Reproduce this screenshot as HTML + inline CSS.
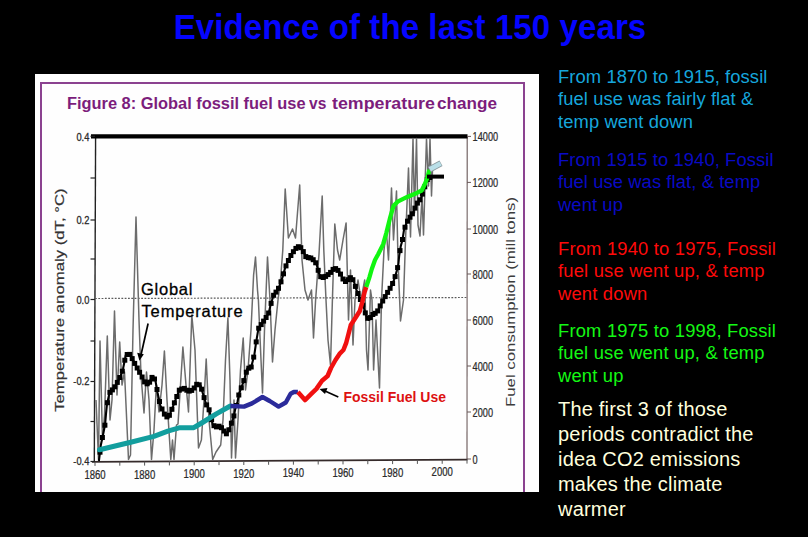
<!DOCTYPE html>
<html><head><meta charset="utf-8"><style>
html,body{margin:0;padding:0;background:#000;width:808px;height:537px;overflow:hidden}
body{position:relative;font-family:"Liberation Sans",Arial,sans-serif}
.t{position:absolute;white-space:nowrap}
#title{left:0;width:808px;top:9px;text-align:center;padding-left:12px;box-sizing:border-box;color:#0505ff;transform-origin:0 38.5px;transform:scaleY(1.035);font-weight:bold;font-size:33px;letter-spacing:0.1px;line-height:38px}
#fig{position:absolute;left:35px;top:74px;width:504px;height:418px;background:#fefefe;overflow:hidden}
#frame{position:absolute;left:5px;top:8px;width:485px;height:430px;border:2px solid #8b4290;box-sizing:border-box}
.ft{position:absolute;top:20.5px;color:#7c1d7c;font-weight:bold;font-size:16px;transform-origin:0 0;white-space:nowrap}
.p{position:absolute;left:558px;font-size:18.35px;line-height:22.3px;letter-spacing:0.1px;white-space:nowrap}
#p5{font-size:20px;line-height:24.9px;letter-spacing:0.2px}
svg{position:absolute;left:0;top:0}
</style></head><body>
<div class="t" id="title">Evidence of the last 150 years</div>
<div id="fig"><div id="frame"></div><div class="ft" style="left:32px;transform:scaleX(1.024)">Figure 8: Global fossil fuel use</div><div class="ft" style="left:274.1px;transform:scaleX(0.97)">vs</div><div class="ft" style="left:297.4px;transform:scaleX(1.112)">temperature</div><div class="ft" style="left:401.9px;transform:scaleX(1.07)">change</div></div>
<svg width="808" height="537" viewBox="0 0 808 537">
<line x1="95.6" y1="136" x2="94.3" y2="462" stroke="#222" stroke-width="1.4"/>
<line x1="467.2" y1="136" x2="467" y2="459.5" stroke="#6b5a5a" stroke-width="1.1"/>
<line x1="92" y1="461.9" x2="467.5" y2="459.6" stroke="#352a2a" stroke-width="1.8"/>
<line x1="91" y1="136.3" x2="467.5" y2="136.3" stroke="#000" stroke-width="4.3"/>
<line x1="95" y1="298.5" x2="467" y2="297.5" stroke="#5a5a5a" stroke-width="1.2" stroke-dasharray="1.8,1.5"/>
<line x1="90.5" y1="136.3" x2="95" y2="136.3" stroke="#222" stroke-width="1.2"/>
<line x1="90.5" y1="178" x2="95" y2="178" stroke="#222" stroke-width="1.2"/>
<line x1="90.5" y1="220" x2="95" y2="220" stroke="#222" stroke-width="1.2"/>
<line x1="90.5" y1="259" x2="95" y2="259" stroke="#222" stroke-width="1.2"/>
<line x1="90.5" y1="299.5" x2="95" y2="299.5" stroke="#222" stroke-width="1.2"/>
<line x1="90.5" y1="341" x2="95" y2="341" stroke="#222" stroke-width="1.2"/>
<line x1="90.5" y1="381.5" x2="95" y2="381.5" stroke="#222" stroke-width="1.2"/>
<line x1="90.5" y1="421.5" x2="95" y2="421.5" stroke="#222" stroke-width="1.2"/>
<line x1="90.5" y1="461.5" x2="95" y2="461.5" stroke="#222" stroke-width="1.2"/>
<line x1="467" y1="136.4" x2="471" y2="136.4" stroke="#6b5a5a" stroke-width="1"/>
<line x1="467" y1="182.4" x2="471" y2="182.4" stroke="#6b5a5a" stroke-width="1"/>
<line x1="467" y1="229" x2="471" y2="229" stroke="#6b5a5a" stroke-width="1"/>
<line x1="467" y1="274" x2="471" y2="274" stroke="#6b5a5a" stroke-width="1"/>
<line x1="467" y1="320" x2="471" y2="320" stroke="#6b5a5a" stroke-width="1"/>
<line x1="467" y1="366" x2="471" y2="366" stroke="#6b5a5a" stroke-width="1"/>
<line x1="467" y1="412" x2="471" y2="412" stroke="#6b5a5a" stroke-width="1"/>
<line x1="467" y1="459" x2="471" y2="459" stroke="#6b5a5a" stroke-width="1"/>
<line x1="95.0" y1="461.9" x2="95.0" y2="465.9" stroke="#555" stroke-width="1"/>
<line x1="119.8" y1="461.7" x2="119.8" y2="465.7" stroke="#555" stroke-width="1"/>
<line x1="144.6" y1="461.6" x2="144.6" y2="465.6" stroke="#555" stroke-width="1"/>
<line x1="169.4" y1="461.4" x2="169.4" y2="465.4" stroke="#555" stroke-width="1"/>
<line x1="194.2" y1="461.3" x2="194.2" y2="465.3" stroke="#555" stroke-width="1"/>
<line x1="219.0" y1="461.1" x2="219.0" y2="465.1" stroke="#555" stroke-width="1"/>
<line x1="243.8" y1="461.0" x2="243.8" y2="465.0" stroke="#555" stroke-width="1"/>
<line x1="268.6" y1="460.8" x2="268.6" y2="464.8" stroke="#555" stroke-width="1"/>
<line x1="293.4" y1="460.7" x2="293.4" y2="464.7" stroke="#555" stroke-width="1"/>
<line x1="318.2" y1="460.5" x2="318.2" y2="464.5" stroke="#555" stroke-width="1"/>
<line x1="343.0" y1="460.4" x2="343.0" y2="464.4" stroke="#555" stroke-width="1"/>
<line x1="367.8" y1="460.2" x2="367.8" y2="464.2" stroke="#555" stroke-width="1"/>
<line x1="392.6" y1="460.1" x2="392.6" y2="464.1" stroke="#555" stroke-width="1"/>
<line x1="417.4" y1="459.9" x2="417.4" y2="463.9" stroke="#555" stroke-width="1"/>
<line x1="442.2" y1="459.8" x2="442.2" y2="463.8" stroke="#555" stroke-width="1"/>
<line x1="467.0" y1="459.6" x2="467.0" y2="463.6" stroke="#555" stroke-width="1"/>
<polyline points="96.0,400.0 98.5,459.5 100.0,341.0 102.5,440.0 104.5,415.0 107.3,336.0 110.0,420.0 112.0,400.0 114.5,311.0 117.0,395.0 119.7,342.0 122.0,385.0 124.5,372.0 128.5,459.5 130.5,455.0 133.0,330.0 136.0,217.0 139.0,320.0 141.0,375.0 144.0,413.0 146.5,372.0 149.0,400.0 151.5,459.5 154.0,430.0 156.4,385.0 159.0,412.0 162.0,385.0 164.4,351.0 167.0,400.0 170.8,459.5 172.5,440.0 174.0,459.5 176.5,425.0 178.0,424.0 180.5,385.0 182.9,347.0 186.0,385.0 188.5,412.0 191.8,315.0 195.0,350.0 198.5,448.0 201.4,440.0 204.0,400.0 206.2,359.0 209.0,420.0 212.7,459.5 216.0,452.0 220.7,445.0 223.0,420.0 225.5,360.0 227.9,318.0 230.0,380.0 231.5,458.0 234.0,400.0 235.5,458.0 238.0,420.0 240.5,370.0 243.2,338.0 245.5,390.0 248.0,370.0 251.0,330.0 253.6,275.0 255.5,257.0 257.5,290.0 258.4,300.0 261.0,360.0 262.5,393.0 264.5,330.0 267.5,257.0 270.0,300.0 272.5,362.0 275.0,330.0 278.0,300.0 280.5,280.0 282.8,250.0 285.2,189.0 288.4,238.0 292.5,229.0 295.5,238.0 299.7,185.0 302.0,260.0 305.0,290.0 308.0,300.0 311.5,290.0 313.5,338.0 315.6,300.0 319.0,254.0 322.2,196.0 323.8,250.0 326.0,300.0 328.0,340.0 330.5,365.0 332.4,300.0 334.8,224.0 337.5,250.0 339.7,260.0 343.0,240.0 346.1,223.0 348.5,320.0 350.5,270.0 353.0,345.0 355.0,300.0 358.0,280.0 361.0,300.0 364.7,280.0 366.5,350.0 368.0,370.0 370.5,290.0 372.0,300.0 373.6,370.0 376.0,320.0 377.0,340.0 379.5,388.0 381.5,300.0 384.0,250.0 386.3,230.0 388.5,260.0 391.5,188.0 393.5,240.0 396.5,191.0 398.0,260.0 400.5,321.0 403.5,300.0 405.5,240.0 408.5,168.0 410.5,237.0 413.0,138.5 414.5,213.0 416.5,138.5 418.0,225.0 420.0,236.0 422.0,196.0 423.5,235.0 426.5,138.5 428.5,186.0 430.0,138.5 431.5,196.0 432.5,170.0" fill="none" stroke="#6c6c6c" stroke-width="1.5" stroke-linejoin="round"/>
<polyline points="98.9,461.0 100.8,445.3 103.4,433.0 105.1,424.3 106.0,413.8 106.9,405.0 109.5,392.8 113.0,389.3 115.6,385.8 118.3,380.5 120.9,375.3 123.0,369.0 125.7,355.5 128.0,354.0 130.0,354.5 132.4,359.0 136.3,366.5 140.6,374.0 145.0,382.7 148.6,384.6 151.5,377.5 153.5,377.0 155.5,381.0 157.5,392.4 160.4,405.8 164.8,414.8 168.2,418.1 171.5,410.3 174.9,401.4 179.3,390.2 183.8,388.0 188.3,391.3 192.7,390.2 197.2,383.5 200.6,385.7 203.9,396.9 205.9,403.5 209.4,410.4 212.8,425.0 216.3,427.0 219.8,426.0 223.2,429.5 225.8,434.7 228.4,431.2 231.0,424.3 233.6,417.3 235.1,409.8 237.5,401.7 239.1,393.7 241.5,387.3 243.2,382.4 244.8,377.6 247.2,368.8 251.2,367.2 254.4,354.4 256.0,343.1 258.4,328.6 261.7,323.8 265.7,318.2 268.9,312.5 270.5,305.3 273.7,294.8 277.8,290.0 280.2,284.2 282.6,276.9 285.0,268.4 286.8,263.7 291.7,254.0 296.5,247.6 299.7,246.0 302.9,250.8 306.1,257.2 311.0,258.0 314.2,260.5 316.5,264.0 319.0,273.3 321.4,278.1 325.0,276.9 330.0,273.2 333.2,269.2 336.4,268.4 339.7,272.4 342.9,278.9 346.1,282.1 349.3,278.0 351.7,277.3 354.1,282.1 356.5,290.1 359.5,297.5 363.6,306.8 365.8,314.6 368.6,319.8 372.5,314.6 377.0,312.4 380.3,305.7 383.7,299.0 388.2,291.5 391.9,285.3 394.4,278.9 396.8,270.8 398.4,264.0 399.2,255.6 400.8,246.0 402.4,240.3 404.0,229.9 406.4,223.4 408.8,218.6 412.1,214.6 414.5,209.0 417.7,202.5 420.9,198.5 423.3,191.3 425.5,184.8 427.5,179.0 430.6,177.0" fill="none" stroke="#000" stroke-width="2.1" stroke-linejoin="round"/>
<g fill="#000"><rect x="97.5" y="449.7" width="5" height="5"/><rect x="99.9" y="435.0" width="5" height="5"/><rect x="102.4" y="422.7" width="5" height="5"/><rect x="104.9" y="400.2" width="5" height="5"/><rect x="107.4" y="389.9" width="5" height="5"/><rect x="109.9" y="387.4" width="5" height="5"/><rect x="112.3" y="384.3" width="5" height="5"/><rect x="114.8" y="379.9" width="5" height="5"/><rect x="117.3" y="375.0" width="5" height="5"/><rect x="119.8" y="368.7" width="5" height="5"/><rect x="122.3" y="357.7" width="5" height="5"/><rect x="124.7" y="352.0" width="5" height="5"/><rect x="127.2" y="351.9" width="5" height="5"/><rect x="129.7" y="356.1" width="5" height="5"/><rect x="132.2" y="360.9" width="5" height="5"/><rect x="134.7" y="365.5" width="5" height="5"/><rect x="137.1" y="369.8" width="5" height="5"/><rect x="139.6" y="374.5" width="5" height="5"/><rect x="142.1" y="379.4" width="5" height="5"/><rect x="144.6" y="381.3" width="5" height="5"/><rect x="147.1" y="379.7" width="5" height="5"/><rect x="149.5" y="374.9" width="5" height="5"/><rect x="152.0" y="376.5" width="5" height="5"/><rect x="154.5" y="387.0" width="5" height="5"/><rect x="157.0" y="399.0" width="5" height="5"/><rect x="159.5" y="406.5" width="5" height="5"/><rect x="161.9" y="411.6" width="5" height="5"/><rect x="164.4" y="414.4" width="5" height="5"/><rect x="166.9" y="412.8" width="5" height="5"/><rect x="169.4" y="406.8" width="5" height="5"/><rect x="171.9" y="400.3" width="5" height="5"/><rect x="174.3" y="394.0" width="5" height="5"/><rect x="176.8" y="387.7" width="5" height="5"/><rect x="179.3" y="386.5" width="5" height="5"/><rect x="181.8" y="385.9" width="5" height="5"/><rect x="184.3" y="387.7" width="5" height="5"/><rect x="186.7" y="388.6" width="5" height="5"/><rect x="189.2" y="387.9" width="5" height="5"/><rect x="191.7" y="385.5" width="5" height="5"/><rect x="194.2" y="381.8" width="5" height="5"/><rect x="196.7" y="382.3" width="5" height="5"/><rect x="199.1" y="386.7" width="5" height="5"/><rect x="201.6" y="395.1" width="5" height="5"/><rect x="204.1" y="402.4" width="5" height="5"/><rect x="206.6" y="407.3" width="5" height="5"/><rect x="209.1" y="417.2" width="5" height="5"/><rect x="211.5" y="423.2" width="5" height="5"/><rect x="214.0" y="424.4" width="5" height="5"/><rect x="216.5" y="423.7" width="5" height="5"/><rect x="219.0" y="425.2" width="5" height="5"/><rect x="221.5" y="428.5" width="5" height="5"/><rect x="223.9" y="431.3" width="5" height="5"/><rect x="226.4" y="427.3" width="5" height="5"/><rect x="228.9" y="420.7" width="5" height="5"/><rect x="231.4" y="413.4" width="5" height="5"/><rect x="233.9" y="403.0" width="5" height="5"/><rect x="236.3" y="392.5" width="5" height="5"/><rect x="238.8" y="385.3" width="5" height="5"/><rect x="241.3" y="378.1" width="5" height="5"/><rect x="243.8" y="369.7" width="5" height="5"/><rect x="246.3" y="365.7" width="5" height="5"/><rect x="248.7" y="364.5" width="5" height="5"/><rect x="251.2" y="354.6" width="5" height="5"/><rect x="253.7" y="339.4" width="5" height="5"/><rect x="256.2" y="325.7" width="5" height="5"/><rect x="258.7" y="322.1" width="5" height="5"/><rect x="261.1" y="318.6" width="5" height="5"/><rect x="263.6" y="315.0" width="5" height="5"/><rect x="266.1" y="310.5" width="5" height="5"/><rect x="268.6" y="300.9" width="5" height="5"/><rect x="271.1" y="292.8" width="5" height="5"/><rect x="273.5" y="289.6" width="5" height="5"/><rect x="276.0" y="285.8" width="5" height="5"/><rect x="278.5" y="279.3" width="5" height="5"/><rect x="281.0" y="271.3" width="5" height="5"/><rect x="283.5" y="263.4" width="5" height="5"/><rect x="285.9" y="258.0" width="5" height="5"/><rect x="288.4" y="253.0" width="5" height="5"/><rect x="290.9" y="249.2" width="5" height="5"/><rect x="293.4" y="245.9" width="5" height="5"/><rect x="295.9" y="244.2" width="5" height="5"/><rect x="298.3" y="245.2" width="5" height="5"/><rect x="300.8" y="249.1" width="5" height="5"/><rect x="303.3" y="254.1" width="5" height="5"/><rect x="305.8" y="255.1" width="5" height="5"/><rect x="308.3" y="255.5" width="5" height="5"/><rect x="310.7" y="257.2" width="5" height="5"/><rect x="313.2" y="260.3" width="5" height="5"/><rect x="315.7" y="267.8" width="5" height="5"/><rect x="318.2" y="274.2" width="5" height="5"/><rect x="320.7" y="275.0" width="5" height="5"/><rect x="323.1" y="273.9" width="5" height="5"/><rect x="325.6" y="272.1" width="5" height="5"/><rect x="328.1" y="269.9" width="5" height="5"/><rect x="330.6" y="266.9" width="5" height="5"/><rect x="333.1" y="266.1" width="5" height="5"/><rect x="335.5" y="267.9" width="5" height="5"/><rect x="338.0" y="271.6" width="5" height="5"/><rect x="340.5" y="276.5" width="5" height="5"/><rect x="343.0" y="279.0" width="5" height="5"/><rect x="345.5" y="277.2" width="5" height="5"/><rect x="347.9" y="275.2" width="5" height="5"/><rect x="350.4" y="277.2" width="5" height="5"/><rect x="352.9" y="283.9" width="5" height="5"/><rect x="355.4" y="291.0" width="5" height="5"/><rect x="357.9" y="297.0" width="5" height="5"/><rect x="360.3" y="302.6" width="5" height="5"/><rect x="362.8" y="310.4" width="5" height="5"/><rect x="365.3" y="315.8" width="5" height="5"/><rect x="367.8" y="315.1" width="5" height="5"/><rect x="370.3" y="312.0" width="5" height="5"/><rect x="372.7" y="310.8" width="5" height="5"/><rect x="375.2" y="308.4" width="5" height="5"/><rect x="377.7" y="303.4" width="5" height="5"/><rect x="380.2" y="298.5" width="5" height="5"/><rect x="382.7" y="294.1" width="5" height="5"/><rect x="385.1" y="289.9" width="5" height="5"/><rect x="387.6" y="285.8" width="5" height="5"/><rect x="390.1" y="281.0" width="5" height="5"/><rect x="392.6" y="274.1" width="5" height="5"/><rect x="395.1" y="265.1" width="5" height="5"/><rect x="397.5" y="248.1" width="5" height="5"/><rect x="400.0" y="237.0" width="5" height="5"/><rect x="402.5" y="224.7" width="5" height="5"/><rect x="405.0" y="218.7" width="5" height="5"/><rect x="407.5" y="214.7" width="5" height="5"/><rect x="409.9" y="211.3" width="5" height="5"/><rect x="412.4" y="205.6" width="5" height="5"/><rect x="414.9" y="200.6" width="5" height="5"/><rect x="417.4" y="197.3" width="5" height="5"/><rect x="419.9" y="191.6" width="5" height="5"/><rect x="422.3" y="184.3" width="5" height="5"/><rect x="424.8" y="177.0" width="5" height="5"/><rect x="427.3" y="175.0" width="5" height="5"/></g>
<polyline points="99.5,449.8 129.7,442.5 153.9,436.4 167.8,431.2 179.9,427.7 193.8,427.7 202.5,422.5 216.3,413.9 230.3,406.0" fill="none" stroke="#129e9e" stroke-width="5" stroke-linejoin="round" stroke-linecap="round"/>
<polyline points="230.3,406.0 244.0,406.6 252.0,403.4 262.5,397.0 269.7,401.0 278.6,406.6 285.8,402.5 290.6,393.7 293.8,392.0 297.9,392.0" fill="none" stroke="#2b2b9a" stroke-width="4.4" stroke-linejoin="round"/>
<polyline points="297.9,392.0 305.0,400.1 311.5,393.7 316.4,388.9 322.0,380.8 327.6,376.0 331.0,368.0 335.5,360.0 340.0,353.3 343.4,350.0 346.1,343.2 348.5,334.0 350.8,325.0 355.7,317.5 359.8,311.0 362.3,302.0 364.6,292.0 366.2,287.0" fill="none" stroke="#f01010" stroke-width="4.5" stroke-linejoin="round"/>
<polyline points="366.2,287.0 369.4,277.3 371.8,269.0 375.0,260.0 378.3,254.0 383.1,244.4 386.3,233.1 390.3,217.0 393.6,205.7 397.6,201.7 407.2,196.9 416.9,192.9 421.7,190.5 424.9,184.0 427.3,178.0 429.4,169.7" fill="none" stroke="#11f511" stroke-width="4.3" stroke-linejoin="round"/>
<line x1="429.4" y1="169.5" x2="441" y2="163.2" stroke="#8a9a9e" stroke-width="6.4" stroke-linecap="butt"/>
<line x1="429.8" y1="169.3" x2="440.6" y2="163.4" stroke="#b9dfe8" stroke-width="4.6" stroke-linecap="butt"/>
<line x1="427" y1="176.6" x2="444" y2="176.6" stroke="#000" stroke-width="4"/>
<line x1="148.1" y1="323.5" x2="141.2" y2="354" stroke="#000" stroke-width="1.7"/>
<polygon points="139.4,360.8 137.2,352.8 143.8,354.2" fill="#000"/>
<line x1="338.3" y1="397" x2="325" y2="391" stroke="#000" stroke-width="1.6"/>
<polygon points="319.5,389 327.5,388 325,394" fill="#000"/>
<text x="89.3" y="141.5" text-anchor="end" font-size="10.8" fill="#2a2a2a" stroke="#2a2a2a" stroke-width="0.3" font-family="Liberation Sans, sans-serif" transform="translate(89.3 0) scale(0.86 1) translate(-89.3 0)">0.4</text>
<text x="89.3" y="224.2" text-anchor="end" font-size="10.8" fill="#2a2a2a" stroke="#2a2a2a" stroke-width="0.3" font-family="Liberation Sans, sans-serif" transform="translate(89.3 0) scale(0.86 1) translate(-89.3 0)">0.2</text>
<text x="89.3" y="304.0" text-anchor="end" font-size="10.8" fill="#2a2a2a" stroke="#2a2a2a" stroke-width="0.3" font-family="Liberation Sans, sans-serif" transform="translate(89.3 0) scale(0.86 1) translate(-89.3 0)">0.0</text>
<text x="89.3" y="385.5" text-anchor="end" font-size="10.8" fill="#2a2a2a" stroke="#2a2a2a" stroke-width="0.3" font-family="Liberation Sans, sans-serif" transform="translate(89.3 0) scale(0.86 1) translate(-89.3 0)">-0.2</text>
<text x="89.3" y="465.4" text-anchor="end" font-size="10.8" fill="#2a2a2a" stroke="#2a2a2a" stroke-width="0.3" font-family="Liberation Sans, sans-serif" transform="translate(89.3 0) scale(0.86 1) translate(-89.3 0)">-0.4</text>
<text x="472.6" y="141.4" font-size="12.4" fill="#2a2a2a" stroke="#2a2a2a" stroke-width="0.25" font-family="Liberation Sans, sans-serif" transform="translate(472.6 0) scale(0.74 1) translate(-472.6 0)">14000</text>
<text x="472.6" y="187.4" font-size="12.4" fill="#2a2a2a" stroke="#2a2a2a" stroke-width="0.25" font-family="Liberation Sans, sans-serif" transform="translate(472.6 0) scale(0.74 1) translate(-472.6 0)">12000</text>
<text x="472.6" y="234.0" font-size="12.4" fill="#2a2a2a" stroke="#2a2a2a" stroke-width="0.25" font-family="Liberation Sans, sans-serif" transform="translate(472.6 0) scale(0.74 1) translate(-472.6 0)">10000</text>
<text x="472.6" y="279.0" font-size="12.4" fill="#2a2a2a" stroke="#2a2a2a" stroke-width="0.25" font-family="Liberation Sans, sans-serif" transform="translate(472.6 0) scale(0.74 1) translate(-472.6 0)">8000</text>
<text x="472.6" y="325.0" font-size="12.4" fill="#2a2a2a" stroke="#2a2a2a" stroke-width="0.25" font-family="Liberation Sans, sans-serif" transform="translate(472.6 0) scale(0.74 1) translate(-472.6 0)">6000</text>
<text x="472.6" y="371.0" font-size="12.4" fill="#2a2a2a" stroke="#2a2a2a" stroke-width="0.25" font-family="Liberation Sans, sans-serif" transform="translate(472.6 0) scale(0.74 1) translate(-472.6 0)">4000</text>
<text x="472.6" y="417.0" font-size="12.4" fill="#2a2a2a" stroke="#2a2a2a" stroke-width="0.25" font-family="Liberation Sans, sans-serif" transform="translate(472.6 0) scale(0.74 1) translate(-472.6 0)">2000</text>
<text x="472.6" y="464.0" font-size="12.4" fill="#2a2a2a" stroke="#2a2a2a" stroke-width="0.25" font-family="Liberation Sans, sans-serif" transform="translate(472.6 0) scale(0.74 1) translate(-472.6 0)">0</text>
<text x="95.0" y="479.0" text-anchor="middle" font-size="12.4" fill="#2a2a2a" stroke="#2a2a2a" stroke-width="0.25" font-family="Liberation Sans, sans-serif" transform="translate(95.0 0) scale(0.77 1) translate(-95.0 0)">1860</text>
<text x="144.6" y="478.6" text-anchor="middle" font-size="12.4" fill="#2a2a2a" stroke="#2a2a2a" stroke-width="0.25" font-family="Liberation Sans, sans-serif" transform="translate(144.6 0) scale(0.77 1) translate(-144.6 0)">1880</text>
<text x="194.2" y="478.2" text-anchor="middle" font-size="12.4" fill="#2a2a2a" stroke="#2a2a2a" stroke-width="0.25" font-family="Liberation Sans, sans-serif" transform="translate(194.2 0) scale(0.77 1) translate(-194.2 0)">1900</text>
<text x="243.8" y="477.8" text-anchor="middle" font-size="12.4" fill="#2a2a2a" stroke="#2a2a2a" stroke-width="0.25" font-family="Liberation Sans, sans-serif" transform="translate(243.8 0) scale(0.77 1) translate(-243.8 0)">1920</text>
<text x="293.4" y="477.4" text-anchor="middle" font-size="12.4" fill="#2a2a2a" stroke="#2a2a2a" stroke-width="0.25" font-family="Liberation Sans, sans-serif" transform="translate(293.4 0) scale(0.77 1) translate(-293.4 0)">1940</text>
<text x="343.0" y="477.0" text-anchor="middle" font-size="12.4" fill="#2a2a2a" stroke="#2a2a2a" stroke-width="0.25" font-family="Liberation Sans, sans-serif" transform="translate(343.0 0) scale(0.77 1) translate(-343.0 0)">1960</text>
<text x="392.6" y="476.6" text-anchor="middle" font-size="12.4" fill="#2a2a2a" stroke="#2a2a2a" stroke-width="0.25" font-family="Liberation Sans, sans-serif" transform="translate(392.6 0) scale(0.77 1) translate(-392.6 0)">1980</text>
<text x="442.2" y="476.2" text-anchor="middle" font-size="12.4" fill="#2a2a2a" stroke="#2a2a2a" stroke-width="0.25" font-family="Liberation Sans, sans-serif" transform="translate(442.2 0) scale(0.77 1) translate(-442.2 0)">2000</text>
<text transform="translate(63.5 300.1) rotate(-90)" text-anchor="middle" font-size="12" fill="#333" stroke="#333" stroke-width="0.2" font-family="Liberation Sans, sans-serif" textLength="223.5" lengthAdjust="spacingAndGlyphs">Temperature anomaly (dT, °C)</text>
<text transform="translate(514.6 302) rotate(-90)" text-anchor="middle" font-size="12" fill="#3c3c3c" font-family="Liberation Sans, sans-serif" textLength="210" lengthAdjust="spacingAndGlyphs">Fuel consumption (mill tons)</text>
<text x="141" y="295" font-size="16.5" fill="#000" stroke="#000" stroke-width="0.3" font-family="Liberation Sans, sans-serif" letter-spacing="0.75">Global</text>
<text x="141.5" y="316.6" font-size="16.5" fill="#000" stroke="#000" stroke-width="0.3" font-family="Liberation Sans, sans-serif" letter-spacing="0.85">Temperature</text>
<text x="343.5" y="401.8" font-size="15.5" font-weight="bold" fill="#dd1111" font-family="Liberation Sans, sans-serif" textLength="102.5" lengthAdjust="spacingAndGlyphs">Fossil Fuel Use</text>
</svg>
<div class="p" id="p1" style="top:66px;color:#16a6dc">From 1870 to 1915, fossil<br>fuel use was fairly flat &amp;<br>temp went down</div>
<div class="p" id="p2" style="top:149px;color:#0a0ac4">From 1915 to 1940, Fossil<br>fuel use was flat, &amp; temp<br>went up</div>
<div class="p" id="p3" style="top:238px;color:#ff0a0a;letter-spacing:0.2px">From 1940 to 1975, Fossil<br>fuel use went up, &amp; temp<br>went down</div>
<div class="p" id="p4" style="top:320px;color:#14f814;letter-spacing:0.2px">From 1975 to 1998, Fossil<br>fuel use went up, &amp; temp<br>went up</div>
<div class="p" id="p5" style="top:397px;color:#ffffdd">The first 3 of those<br>periods contradict the<br>idea CO2 emissions<br>makes the climate<br>warmer</div>
</body></html>
